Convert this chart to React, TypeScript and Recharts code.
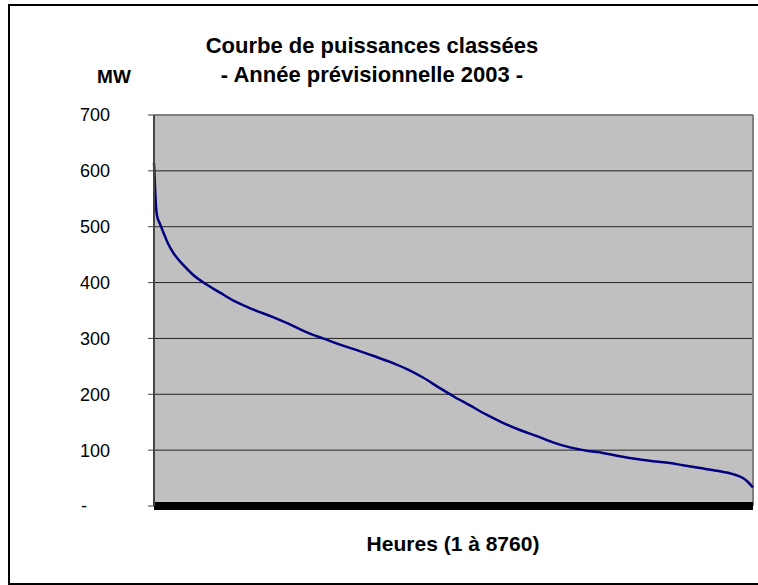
import React from 'react';
import { LineChart, Line, XAxis, YAxis, CartesianGrid, ReferenceLine } from 'recharts';

// heures classées (1 à 8760) et puissance appelée en MW
const HOURS = [
  1, 15, 30, 45, 89, 147, 206, 279, 425, 571, 776, 966, 1156, 1448, 1741, 1989,
  2238, 2472, 2720, 2969, 3203, 3451, 3700, 3934, 4182, 4372, 4621, 4869, 5103,
  5352, 5600, 5834, 6083, 6331, 6565, 6814, 7062, 7296, 7545, 7735, 7984, 8232,
  8466, 8612, 8686, 8760,
];
const MW = [
  614, 573, 537, 520, 505, 487, 470, 454, 432, 414, 396, 382, 368, 352, 338, 325,
  311, 300, 289, 279, 269, 258, 245, 230, 211, 197, 180, 163, 149,
  136, 125, 114, 105, 99, 95, 89, 84, 80, 77, 73, 68, 63,
  57, 50, 43, 33,
];
const Y_TICKS = [0, 100, 200, 300, 400, 500, 600, 700];

const data = HOURS.map((h, i) => ({ heure: h, mw: MW[i] }));

const FONT = '"Liberation Sans", Arial, sans-serif';

function YTick(props: any) {
  const { x, y, payload } = props;
  const zero = payload.value === 0;
  return (
    <text
      x={zero ? x - 59 : x - 36}
      y={y}
      dy="0.36em"
      textAnchor="end"
      fontFamily={FONT}
      fontSize={18}
      fill="#000"
    >
      {zero ? '-' : payload.value}
    </text>
  );
}

const txt: React.CSSProperties = {
  position: 'absolute',
  fontFamily: FONT,
  fontWeight: 'bold',
  color: '#000',
  whiteSpace: 'nowrap',
  lineHeight: 1,
};

export default function App() {
  return (
    <div style={{ position: 'absolute', left: 0, top: 0, width: 758, height: 585, background: '#fff', overflow: 'hidden' }}>
      <div style={{ position: 'absolute', left: 8, top: 4, width: 760, height: 577, border: '2px solid #000' }} />
      <div style={{ position: 'absolute', left: 0, top: 0 }}>
        <LineChart width={758} height={585} data={data} margin={{ top: 115, right: 5, bottom: 49, left: 0 }}>
          <CartesianGrid vertical={false} fill="#c0c0c0" stroke="#222" strokeWidth={1} />
          <XAxis
            dataKey="heure"
            type="number"
            domain={[1, 8760]}
            tick={false}
            tickLine={false}
            axisLine={{ stroke: '#000', strokeWidth: 8 }}
            height={30}
          />
          <YAxis
            domain={[0, 700]}
            ticks={Y_TICKS}
            width={154}
            tick={<YTick />}
            tickSize={6}
            tickLine={{ stroke: '#444' }}
            axisLine={{ stroke: '#444', strokeWidth: 2 }}
          />
          <ReferenceLine y={700} stroke="#808080" strokeWidth={2} />
          <ReferenceLine x={8760} stroke="#808080" strokeWidth={2} />
          <Line
            type="monotone"
            dataKey="mw"
            stroke="#000080"
            strokeWidth={2.5}
            dot={false}
            isAnimationActive={false}
          />
        </LineChart>
      </div>
      <div style={{ ...txt, left: 372, top: 46, fontSize: 22, transform: 'translate(-50%, -50%)' }}>
        Courbe de puissances classées
      </div>
      <div style={{ ...txt, left: 372, top: 75, fontSize: 22, transform: 'translate(-50%, -50%)' }}>
        - Année prévisionnelle 2003 -
      </div>
      <div style={{ ...txt, left: 114, top: 76, fontSize: 19, transform: 'translate(-50%, -50%)' }}>MW</div>
      <div style={{ ...txt, left: 453, top: 543, fontSize: 21, transform: 'translate(-50%, -50%)' }}>
        Heures (1 à 8760)
      </div>
    </div>
  );
}
